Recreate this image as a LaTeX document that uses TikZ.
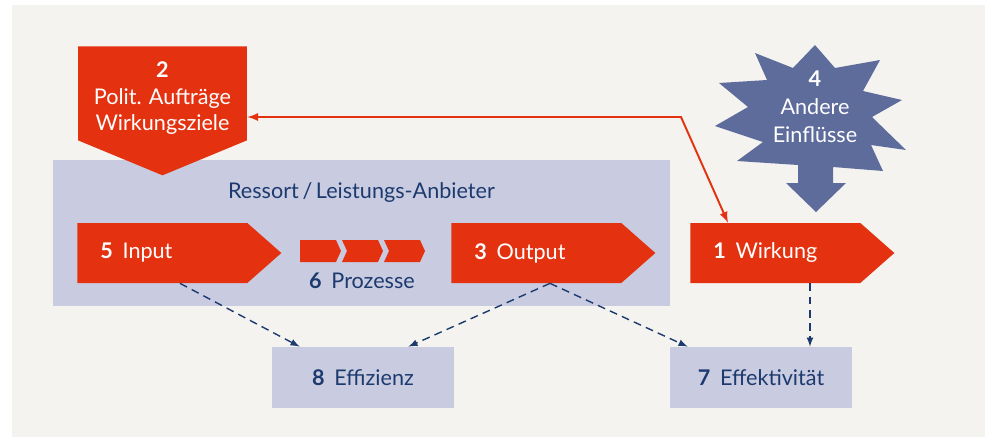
\documentclass[tikz,border=0pt]{standalone}
\usepackage{fontspec}
\setmainfont{Lato}
\usetikzlibrary{shapes.symbols,calc}
\definecolor{rot}{HTML}{E43210}
\definecolor{hellblau}{HTML}{C9CCE1}
\definecolor{dunkelblau}{HTML}{1C3A6E}
\definecolor{stern}{HTML}{5E6C9C}
\definecolor{grund}{HTML}{F4F3F0}
\newcommand{\nr}[1]{\textbf{#1}\hspace{.45em}}

\begin{document}
\begin{tikzpicture}[x=0.02cm, y=-0.02cm, >=latex,
  every node/.style={font=\fontsize{12.3}{15}\selectfont},
  pfeil/.style={signal, signal to=east, signal pointer angle=82.8, fill=rot, text=white,
    text width=2.48cm, inner xsep=0.46cm, inner ysep=0pt, minimum height=1.2cm, align=left, anchor=west},
  feld/.style={fill=hellblau, text=dunkelblau, minimum width=3.64cm, minimum height=1.22cm},
  strich/.style={->, dunkelblau, line width=.8pt, dash pattern=on 4.5pt off 3pt}]

\useasboundingbox (0,0) rectangle (985,437);
\fill[grund] (12,5) rectangle (985,437);

\node[fill=hellblau, minimum width=12.34cm, minimum height=2.92cm] (ressort) at (361.5,233) {};
\node[text=dunkelblau] (anbieter) at (361.5,193) {Ressort\,/\,Leistungs-Anbieter};

\node[signal, signal to=south, signal pointer angle=135, fill=rot, text=white, text width=3cm,
  inner xsep=0.19cm, minimum height=2.58cm, align=center, anchor=north] (ziele) at (162.5,46)
  {\rule{0pt}{14.5pt}\textbf{2}\\Polit.\ Aufträge\\Wirkungsziele};

\node[pfeil] (input) at (77,253) {\nr{5}Input};
\node[pfeil] (output) at (451,253) {\nr{3}Output};
\node[pfeil] (wirkung) at (690,253) {\nr{1}Wirkung};

\foreach \i/\n in {0/0,1/5,2/5}
  \fill[rot] ({300+42*\i},240) -- ++(36,0) -- ++(5,11) -- ++(-5,11) -- ++(-36,0) -- ++(\n,-11) -- cycle;
\node[text=dunkelblau] (prozesse) at (362,281) {\nr{6}Prozesse};

\fill[stern] (815,45) -- (835,68) -- (880,60) -- (863,91) -- (902,100) -- (872,117) -- (906,150)
  -- (871,145) -- (883,171) -- (833,167) -- (833,183) -- (846,183) -- (816,212) -- (786,183)
  -- (798,183) -- (798,165) -- (737,161) -- (763,142) -- (715,126) -- (748,107) -- (719,83)
  -- (767,80) -- (755,53) -- (793,68) -- cycle;
\node[text=white, align=center, font=\fontsize{12.3}{16}\selectfont] (einfluss) at (815,107)
  {\textbf{4}\\Andere\\Einflüsse};

\node[feld] (effizienz) at (363,377.5) {\nr{8}Effizienz};
\node[feld] (effektiv) at (761,377.5) {\nr{7}Effektivität};

\coordinate (knick) at (681,117);
\draw[<->, rot, line width=1.1pt] (knick -| ziele.east) -- (knick) -- ($(wirkung.north west)+(38,0)$);

\draw[strich] ($(input.west |- input.south)+(103,0)$) -- ($(effizienz.north west)+(28,0)$);
\draw[strich] ($(output.west |- output.south)+(99,0)$) -- ($(effizienz.north east)+(-46,0)$);
\draw[strich] ($(output.west |- output.south)+(99,0)$) -- ($(effektiv.north west)+(18,0)$);
\draw[strich] ($(wirkung.west |- wirkung.south)+(120,0)$) -- ($(wirkung.west |- effektiv.north)+(120,0)$);
\end{tikzpicture}
\end{document}
